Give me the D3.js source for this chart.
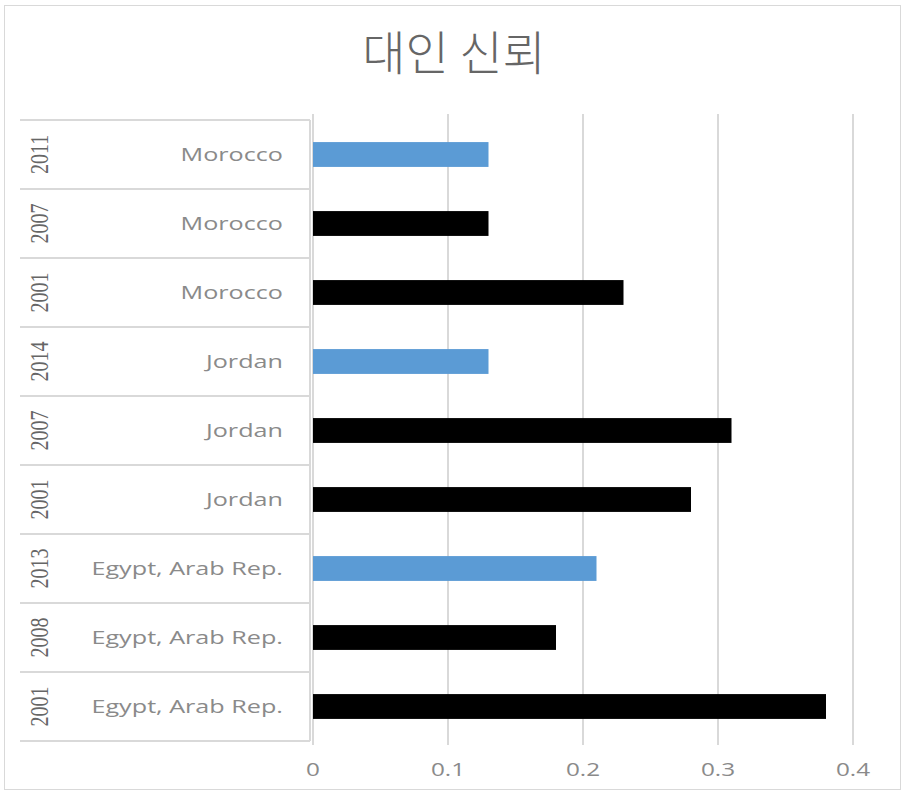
<!DOCTYPE html>
<html>
<head>
<meta charset="utf-8">
<script src="https://cdn.jsdelivr.net/npm/d3@7"></script>
<style>
  body { margin: 0; background: #fff; }
  text { font-family: "Open Sans", "Noto Sans", sans-serif; }
</style>
</head>
<body>
<div id="chart"></div>
<script>
// Chart data, read top row to bottom row
const countries = ["Morocco", "Morocco", "Morocco", "Jordan", "Jordan", "Jordan",
                   "Egypt, Arab Rep.", "Egypt, Arab Rep.", "Egypt, Arab Rep."];
const years = ["2011", "2007", "2001", "2014", "2007", "2001", "2013", "2008", "2001"];
const values = [0.13, 0.13, 0.23, 0.13, 0.31, 0.28, 0.21, 0.18, 0.38];
const latest = [true, false, false, true, false, false, true, false, false];
const xTicks = [0, 0.1, 0.2, 0.3, 0.4];
const title = "대인 신뢰";

const W = 906, H = 796;
const plot = { left: 313, right: 853, top: 120, bottom: 741 };

const rows = countries.map((c, i) => ({ country: c, year: years[i], value: values[i], latest: latest[i], key: i }));

const svg = d3.select("#chart").append("svg")
    .attr("width", W)
    .attr("height", H);

// outer chart border
svg.append("rect")
    .attr("x", 4.5).attr("y", 5.5)
    .attr("width", W - 10).attr("height", H - 12)
    .attr("fill", "none")
    .attr("stroke", "#d9d9d9");

// title
svg.append("text")
    .attr("x", 454)
    .attr("y", 70)
    .attr("text-anchor", "middle")
    .style("font-family", "'Noto Sans CJK KR', sans-serif")
    .style("font-size", "47px")
    .style("font-weight", 300)
    .style("fill", "#666")
    .text(title);

// scales
const x = d3.scaleLinear()
    .domain([0, 0.4])
    .range([plot.left, plot.right]);

const y = d3.scaleBand()
    .domain(rows.map(d => d.key))
    .range([plot.top, plot.bottom])
    .paddingInner(0.64)
    .paddingOuter(0.32);

const rowBand = d3.scaleBand()
    .domain(rows.map(d => d.key))
    .range([plot.top, plot.bottom]);

// gridlines
svg.append("g")
  .selectAll("line")
  .data(xTicks)
  .join("line")
    .attr("x1", d => x(d)).attr("x2", d => x(d))
    .attr("y1", plot.top - 6).attr("y2", plot.bottom + 4)
    .attr("stroke", "#d9d9d9")
    .attr("stroke-width", 2);

// label table: row separators and right edge
const table = svg.append("g");
table.selectAll("line.sep")
  .data(d3.range(rows.length + 1))
  .join("line")
    .attr("class", "sep")
    .attr("x1", 20).attr("x2", 310)
    .attr("y1", i => i < rows.length ? rowBand(i) : plot.bottom)
    .attr("y2", i => i < rows.length ? rowBand(i) : plot.bottom)
    .attr("stroke", "#d9d9d9")
    .attr("stroke-width", 2);
table.append("line")
    .attr("x1", 310).attr("x2", 310)
    .attr("y1", plot.top).attr("y2", plot.bottom)
    .attr("stroke", "#d9d9d9")
    .attr("stroke-width", 2);

// year labels (rotated, slightly stretched like the reference)
svg.append("g")
  .selectAll("text")
  .data(rows)
  .join("text")
    .attr("transform", d => `translate(48,${rowBand(d.key) + rowBand.bandwidth() / 2}) rotate(-90) scale(1,1.3)`)
    .attr("text-anchor", "middle")
    .style("font-family", "'Liberation Serif', serif")
    .style("font-size", "20px")
    .style("fill", "#666")
    .text(d => d.year);

// country labels
svg.append("g")
  .selectAll("text")
  .data(rows)
  .join("text")
    .attr("transform", d => `translate(283,${rowBand(d.key) + rowBand.bandwidth() / 2}) scale(1.4,1)`)
    .attr("dy", "0.36em")
    .attr("text-anchor", "end")
    .style("font-size", "18px")
    .style("fill", "#8a8a8a")
    .text(d => d.country);

// x tick labels
svg.append("g")
  .selectAll("text")
  .data(xTicks)
  .join("text")
    .attr("transform", d => `translate(${x(d)},776) scale(1.35,1)`)
    .attr("text-anchor", "middle")
    .style("font-size", "18px")
    .style("fill", "#8a8a8a")
    .text(d => d === 0 ? "0" : d3.format(".1f")(d));

// bars
svg.append("g")
  .selectAll("rect")
  .data(rows)
  .join("rect")
    .attr("x", x(0))
    .attr("y", d => y(d.key))
    .attr("width", d => x(d.value) - x(0))
    .attr("height", y.bandwidth())
    .attr("fill", d => d.latest ? "#5b9bd5" : "#000");
</script>
</body>
</html>
